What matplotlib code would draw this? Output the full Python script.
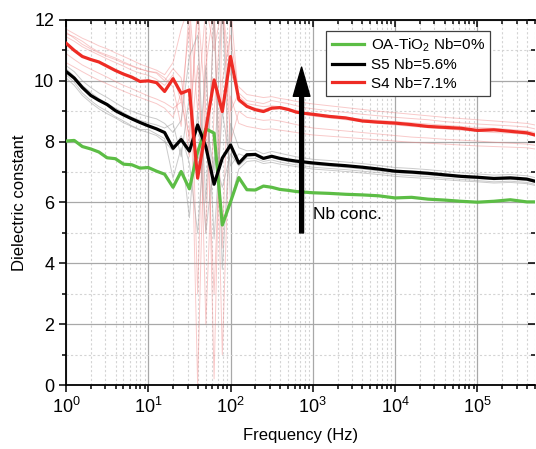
import matplotlib
matplotlib.use("Agg")
import matplotlib.pyplot as plt
from matplotlib.ticker import LogLocator, MultipleLocator, NullFormatter

plt.rcParams['font.family'] = ['Liberation Sans', 'DejaVu Sans']
plt.rcParams['mathtext.default'] = 'regular'

# frequency points (Hz)
freq = [1, 1.26, 1.58, 2.0, 2.51, 3.16, 3.98, 5.01, 6.31, 7.94,
        10, 12.6, 15.8, 20, 25.1, 31.6, 39.8, 50.1, 63.1, 79.4,
        100, 126, 158, 200, 251, 316, 398, 501, 631, 794,
        1000, 1585, 2512, 3981, 6310,
        1e4, 1.585e4, 2.512e4, 3.981e4, 6.31e4,
        1e5, 1.585e5, 2.512e5, 3.981e5, 5e5]

# main curves
oa_tio2 = [8.02, 8.04, 7.84, 7.76, 7.66, 7.47, 7.44, 7.26, 7.24, 7.13,
           7.15, 7.03, 6.93, 6.50, 7.02, 6.45, 7.67, 8.42, 8.28, 5.26,
           6.02, 6.82, 6.42, 6.41, 6.54, 6.50, 6.43, 6.40, 6.36, 6.34,
           6.32, 6.30, 6.27, 6.25, 6.22,
           6.15, 6.17, 6.11, 6.08, 6.04,
           6.01, 6.04, 6.09, 6.02, 6.02]
s5 = [10.31, 10.09, 9.78, 9.52, 9.36, 9.22, 9.02, 8.88, 8.75, 8.63,
      8.52, 8.42, 8.30, 7.78, 8.07, 7.69, 8.55, 7.83, 6.60, 7.46,
      7.89, 7.29, 7.57, 7.58, 7.45, 7.52, 7.45, 7.40, 7.36, 7.33,
      7.30, 7.25, 7.21, 7.16, 7.10,
      7.03, 7.00, 6.96, 6.91, 6.86,
      6.83, 6.79, 6.81, 6.77, 6.70]
s4 = [11.24, 11.00, 10.80, 10.70, 10.62, 10.48, 10.34, 10.22, 10.12, 9.98,
      10.00, 9.94, 9.65, 10.07, 9.59, 9.70, 6.80, 8.40, 10.03, 8.99,
      10.80, 9.38, 9.16, 9.05, 8.99, 9.10, 9.12, 9.06, 8.97, 8.93,
      8.90, 8.83, 8.78, 8.68, 8.64,
      8.61, 8.56, 8.50, 8.47, 8.44,
      8.37, 8.39, 8.34, 8.29, 8.22]

# faint individual measurements (S4 group)
s4_runs = [
    [11.70, 11.55, 11.40, 11.28, 11.15, 11.05, 10.92, 10.80, 10.68, 10.55,
     10.45, 10.35, 10.20, 10.60, 11.70, 12.5, 9.0, 12.5, 11.0, 12.5,
     10.2, 9.80, 9.55, 9.50, 9.45, 9.48, 9.42, 9.38, 9.32, 9.28,
     9.24, 9.18, 9.12, 9.06, 9.00, 8.95, 8.90, 8.85, 8.80, 8.76,
     8.72, 8.68, 8.64, 8.60, 8.55],
    [11.55, 11.45, 11.30, 11.10, 10.95, 10.85, 10.75, 10.62, 10.50, 10.40,
     10.30, 10.28, 10.10, 9.80, 8.5, 12.5, 3.0, 11.8, 0.2, 12.5,
     9.0, 9.60, 9.35, 9.30, 9.25, 9.35, 9.30, 9.25, 9.18, 9.12,
     9.08, 9.02, 8.96, 8.90, 8.85, 8.80, 8.76, 8.72, 8.66, 8.62,
     8.58, 8.55, 8.52, 8.48, 8.42],
    [11.45, 11.30, 11.12, 10.98, 10.85, 10.72, 10.60, 10.48, 10.35, 10.25,
     10.18, 10.05, 9.85, 10.20, 9.30, 11.8, 0.0, 10.5, 12.5, 4.5,
     12.5, 9.30, 9.15, 9.10, 9.05, 9.15, 9.10, 9.02, 8.96, 8.90,
     8.84, 8.78, 8.72, 8.66, 8.60, 8.55, 8.50, 8.46, 8.42, 8.38,
     8.34, 8.30, 8.28, 8.24, 8.18],
    [10.90, 10.70, 10.52, 10.38, 10.25, 10.12, 9.98, 9.85, 9.74, 9.62,
     9.50, 9.40, 9.28, 9.10, 9.30, 8.20, 12.5, 2.0, 9.0, 12.5,
     8.0, 9.00, 8.80, 8.75, 8.70, 8.72, 8.68, 8.62, 8.56, 8.50,
     8.45, 8.40, 8.35, 8.30, 8.25, 8.20, 8.15, 8.12, 8.08, 8.05,
     8.02, 7.98, 7.95, 7.92, 7.88],
    [11.60, 11.40, 11.20, 11.05, 10.92, 10.80, 10.70, 10.58, 10.48, 10.38,
     10.32, 10.25, 10.00, 10.40, 10.10, 8.0, 12.5, 9.0, 3.0, 10.0,
     11.5, 9.50, 9.25, 9.20, 9.15, 9.18, 9.15, 9.08, 9.02, 8.96,
     8.92, 8.86, 8.80, 8.74, 8.70, 8.66, 8.62, 8.58, 8.54, 8.50,
     8.46, 8.44, 8.40, 8.36, 8.30],
    [10.60, 10.45, 10.30, 10.15, 10.02, 9.90, 9.78, 9.66, 9.55, 9.45,
     9.35, 9.25, 9.10, 8.80, 9.60, 7.50, 10.5, 5.0, 12.5, 1.0,
     9.5, 8.60, 8.50, 8.45, 8.40, 8.42, 8.38, 8.34, 8.30, 8.26,
     8.22, 8.18, 8.14, 8.10, 8.06, 8.02, 7.98, 7.95, 7.92, 7.89,
     7.86, 7.84, 7.82, 7.80, 7.76],
]

# faint individual measurements (S5 group)
s5_runs = [
    [10.50, 10.30, 10.00, 9.78, 9.60, 9.45, 9.28, 9.12, 9.00, 8.90,
     8.82, 8.75, 8.60, 8.30, 8.70, 10.8, 11.5, 6.0, 12.2, 3.8,
     8.6, 7.80, 7.70, 7.72, 7.60, 7.68, 7.62, 7.56, 7.50, 7.46,
     7.42, 7.38, 7.33, 7.28, 7.22, 7.15, 7.12, 7.08, 7.03, 6.98,
     6.94, 6.90, 6.92, 6.88, 6.82],
    [10.20, 9.95, 9.60, 9.35, 9.15, 9.00, 8.82, 8.68, 8.52, 8.40,
     8.40, 8.25, 8.10, 6.80, 7.80, 5.5, 9.0, 5.0, 7.5, 6.5,
     7.6, 7.20, 7.45, 7.45, 7.35, 7.40, 7.33, 7.28, 7.24, 7.20,
     7.16, 7.12, 7.08, 7.03, 6.98, 6.92, 6.88, 6.85, 6.80, 6.76,
     6.72, 6.68, 6.70, 6.66, 6.60],
    [10.40, 10.15, 9.85, 9.62, 9.42, 9.25, 9.10, 8.95, 8.80, 8.70,
     8.62, 8.55, 8.45, 8.60, 7.50, 9.5, 6.8, 10.5, 4.8, 9.0,
     7.2, 7.60, 7.50, 7.55, 7.42, 7.48, 7.40, 7.35, 7.30, 7.27,
     7.24, 7.20, 7.15, 7.10, 7.04, 6.98, 6.95, 6.91, 6.86, 6.82,
     6.78, 6.75, 6.76, 6.72, 6.66],
    [10.10, 9.85, 9.52, 9.28, 9.08, 8.92, 8.78, 8.62, 8.50, 8.38,
     8.30, 8.20, 8.00, 7.70, 8.20, 7.30, 5.0, 8.8, 7.0, 12.5,
     6.0, 7.10, 7.35, 7.38, 7.28, 7.32, 7.26, 7.22, 7.18, 7.14,
     7.10, 7.06, 7.02, 6.97, 6.92, 6.86, 6.82, 6.79, 6.75, 6.71,
     6.68, 6.64, 6.66, 6.62, 6.56],
]

fig = plt.figure(figsize=(5.36, 4.49), dpi=100)
ax = fig.add_axes([0.1231, 0.1425, 0.8749, 0.813])

for run in s4_runs:
    ax.plot(freq, run, color='#f08080', lw=0.7, alpha=0.42, zorder=2)
for run in s5_runs:
    ax.plot(freq, run, color='#a0a0a0', lw=0.7, alpha=0.55, zorder=2)

ax.plot(freq, oa_tio2, color='#5cbd45', lw=2.3, label='OA-TiO$_2$ Nb=0%', zorder=4)
ax.plot(freq, s5, color='black', lw=2.3, label='S5 Nb=5.6%', zorder=4)
ax.plot(freq, s4, color='#ee2b24', lw=2.3, label='S4 Nb=7.1%', zorder=4)

ax.set_xscale('log')
ax.set_xlim(1, 5e5)
ax.set_ylim(0, 12)

ax.xaxis.set_major_locator(LogLocator(base=10, numticks=10))
ax.xaxis.set_minor_locator(LogLocator(base=10, subs=range(2, 10), numticks=20))
ax.xaxis.set_minor_formatter(NullFormatter())
ax.yaxis.set_major_locator(MultipleLocator(2))
ax.yaxis.set_minor_locator(MultipleLocator(1))

ax.grid(which='major', color='#a8a8a8', lw=0.9, zorder=0)
ax.grid(which='minor', color='#d4d4d4', lw=0.8, ls=(0, (2, 2)), zorder=0)
ax.set_axisbelow(True)

ax.tick_params(which='both', direction='out', labelsize=13, width=1.1, colors='black',
               top=True, right=True)
ax.tick_params(which='major', length=5)
ax.tick_params(which='minor', length=3)
for spine in ax.spines.values():
    spine.set_linewidth(1.3)
ax.spines['right'].set_visible(False)

ax.set_xlabel('Frequency (Hz)', fontsize=12, labelpad=8)
ax.set_ylabel('Dielectric constant', fontsize=12, labelpad=5)

ax.annotate('', xy=(730, 10.45), xytext=(730, 5.0),
            arrowprops=dict(width=2.8, headwidth=12, headlength=21,
                            facecolor='black', edgecolor='black', shrink=0),
            zorder=5)
ax.text(1000, 5.6, 'Nb conc.', fontsize=12.5, va='center', ha='left', zorder=5)

leg = ax.legend(loc='upper left', bbox_to_anchor=(0.555, 0.970), borderaxespad=0,
                fontsize=11, frameon=True, fancybox=False, framealpha=1,
                edgecolor='#404040', handlelength=2.1, labelspacing=0.3,
                borderpad=0.35, handletextpad=0.45)
leg.get_frame().set_linewidth(0.9)
leg.set_zorder(6)

# mirrored ticks on top/right point inward
fig.canvas.draw()
for tick in ax.xaxis.get_major_ticks() + ax.xaxis.get_minor_ticks():
    tick.tick2line.set_marker(3)
for tick in ax.yaxis.get_major_ticks() + ax.yaxis.get_minor_ticks():
    tick.tick2line.set_marker(0)

fig.savefig('out.png', dpi=100)
